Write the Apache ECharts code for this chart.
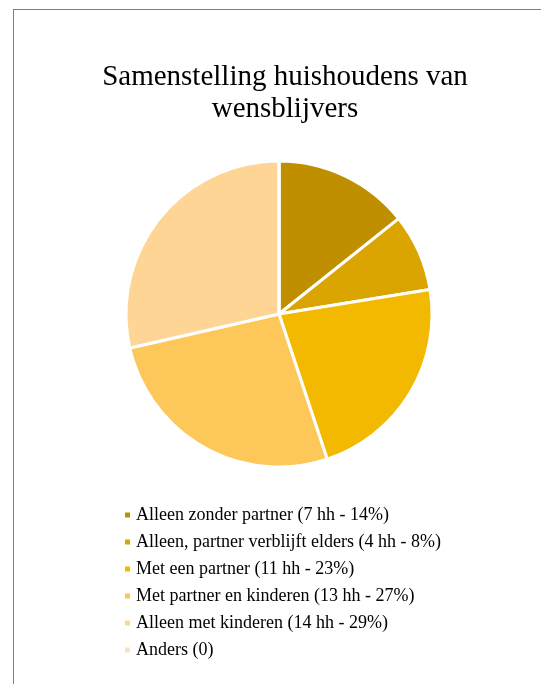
<!DOCTYPE html>
<html>
<head>
<meta charset="utf-8">
<script src="https://cdn.jsdelivr.net/npm/echarts@6/dist/echarts.min.js"></script>
<style>
  html, body { margin: 0; padding: 0; background: #fff; }
  .frame { position: absolute; left: 13px; top: 9px; width: 600px; height: 700px; border: 1px solid #7f7f7f; }
  #myChart { position: absolute; left: 0; top: 0; width: 541px; height: 684px; }
</style>
</head>
<body>
<div class="frame"></div>
<div id="myChart"></div>
<script>
// data
var categories = [
  'Alleen zonder partner',
  'Alleen, partner verblijft elders',
  'Met een partner',
  'Met partner en kinderen',
  'Alleen met kinderen',
  'Anders'
]
var households = [7, 4, 11, 13, 14, 0]
var percents = [14, 8, 23, 27, 29, null]
var colors = ['#BF8F00', '#DAA500', '#F3B800', '#FEC75A', '#FFD595', '#FFE2BD']

var myChart = echarts.init(document.getElementById('myChart'))

function legendText(name) {
  var i = categories.indexOf(name)
  if (percents[i] === null) return name + ' (' + households[i] + ')'
  return name + ' (' + households[i] + ' hh - ' + percents[i] + '%)'
}

myChart.setOption({
  animation: false,
  color: colors,
  title: {
    text: 'Samenstelling huishoudens van\nwensblijvers',
    left: 280,
    textAlign: 'center',
    top: 56,
    textStyle: {
      fontFamily: 'Liberation Serif',
      fontWeight: 'normal',
      fontSize: 29,
      lineHeight: 32,
      color: '#000'
    }
  },
  legend: {
    orient: 'vertical',
    left: 118,
    top: 501,
    itemWidth: 7,
    itemHeight: 7,
    itemGap: 9,
    icon: 'rect',
    formatter: legendText,
    textStyle: {
      fontFamily: 'Liberation Serif',
      fontSize: 18,
      lineHeight: 18,
      color: '#000'
    },
    data: categories
  },
  series: [
    {
      type: 'pie',
      center: [279, 314],
      radius: 153,
      startAngle: 90,
      clockwise: true,
      label: { show: false },
      labelLine: { show: false },
      emphasis: { disabled: true },
      itemStyle: {
        borderColor: '#fff',
        borderWidth: 3
      },
      data: categories.map(function (c, i) {
        return { name: c, value: households[i] }
      })
    }
  ]
})
</script>
</body>
</html>
